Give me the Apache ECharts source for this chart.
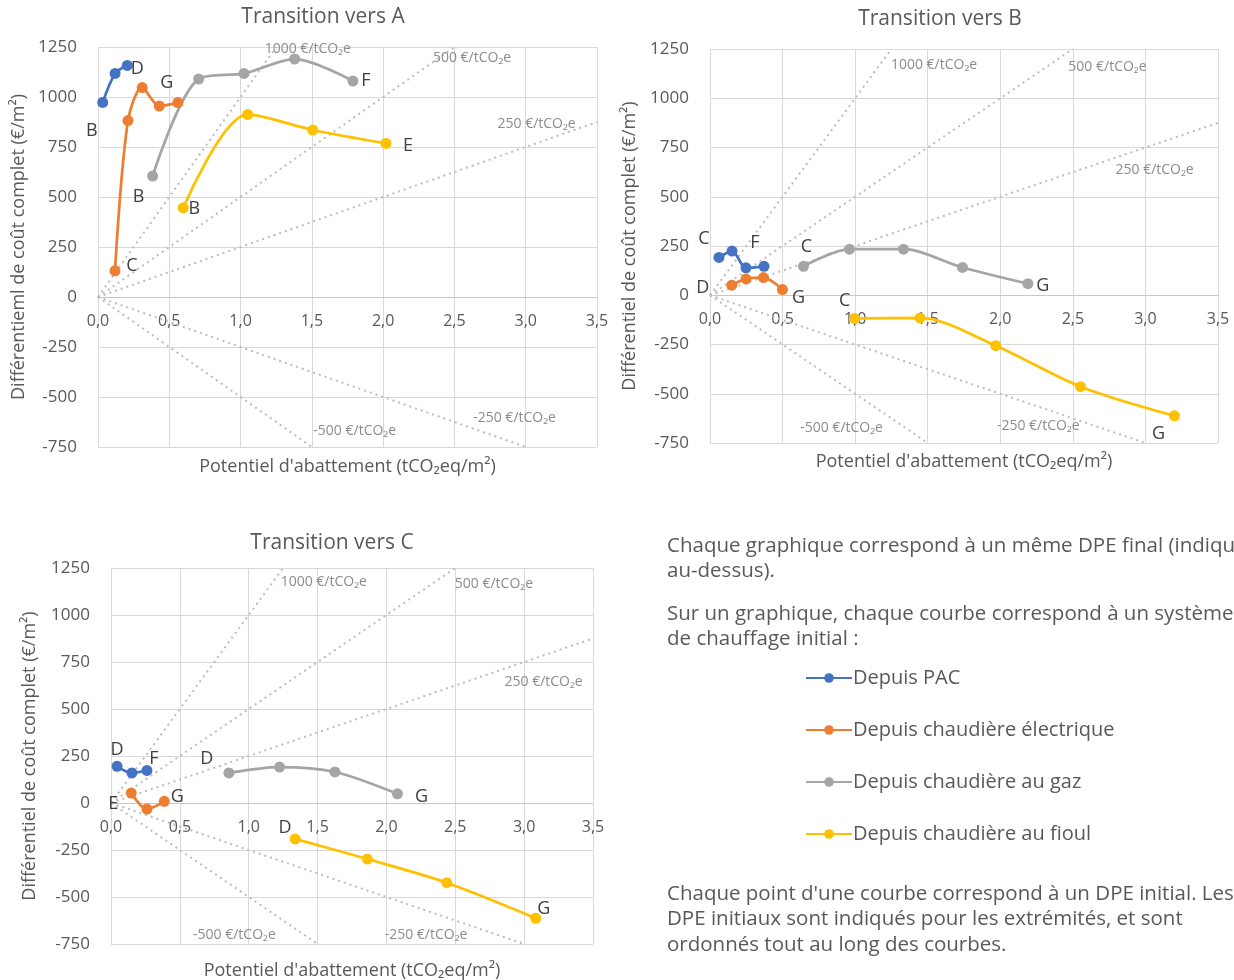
<!DOCTYPE html>
<html><head><meta charset="utf-8">
<script src="https://cdn.jsdelivr.net/npm/echarts@6/dist/echarts.min.js"></script>
<style>html,body{margin:0;padding:0;background:#fff}#c{width:1234px;height:980px}</style>
</head><body><div id="c"></div>
<script>
const FONT = "'Open Sans', sans-serif";
const chartTitles = ['Transition vers A', 'Transition vers B', 'Transition vers C'];
const seriesNames = ['Depuis PAC', 'Depuis chaudière électrique', 'Depuis chaudière au gaz', 'Depuis chaudière au fioul'];
const seriesColors = ['#4472C4', '#ED7D31', '#A5A5A5', '#FFC000'];
const yTitles = ['Différentieml de coût complet (€/m²)', 'Différentiel de coût complet (€/m²)', 'Différentiel de coût complet (€/m²)'];
const xTitle = "Potentiel d'abattement (tCO₂eq/m²)";

// Transition vers A : [potentiel, différentiel]
const aPac   = [[0.033, 973], [0.12, 1118], [0.205, 1158]];
const aElec  = [[0.119, 131], [0.21, 882], [0.31, 1047], [0.43, 955], [0.56, 972]];
const aGaz   = [[0.383, 605], [0.706, 1090], [1.024, 1118], [1.379, 1190], [1.788, 1080]];
const aFioul = [[0.598, 446], [1.05, 913], [1.506, 835], [2.02, 768]];
const aEnds  = [['B', 'D'], ['C', 'G'], ['B', 'F'], ['B', 'E']];

// Transition vers B
const bPac   = [[0.062, 192], [0.152, 224], [0.248, 139], [0.372, 147]];
const bElec  = [[0.15, 51], [0.248, 83], [0.368, 90], [0.499, 29]];
const bGaz   = [[0.644, 147], [0.961, 234], [1.333, 234], [1.74, 141], [2.19, 59]];
const bFioul = [[0.996, -118], [1.447, -115], [1.969, -256], [2.553, -464], [3.2, -612]];
const bEnds  = [['C', 'F'], ['D', 'G'], ['C', 'G'], ['C', 'G']];

// Transition vers C
const cPac   = [[0.044, 195], [0.152, 160], [0.261, 173]];
const cElec  = [[0.147, 53], [0.261, -32], [0.387, 9]];
const cGaz   = [[0.856, 160], [1.224, 191], [1.626, 165], [2.08, 49]];
const cFioul = [[1.337, -191], [1.862, -298], [2.438, -424], [3.084, -613]];
const cEnds  = [['D', 'F'], ['E', 'G'], ['D', 'G'], ['D', 'G']];

// iso-cost lines (€/tCO2e)
const rateValues = [1000, 500, 250, -250, -500];

const xMin = 0, xMax = 3.5, xStep = 0.5;
const yMin = -750, yMax = 1250, yStep = 250;

const textLines = [
  'Chaque graphique correspond à un même DPE final (indiqué',
  'au-dessus).',
  'Sur un graphique, chaque courbe correspond à un système',
  'de chauffage initial :',
  "Chaque point d'une courbe correspond à un DPE initial. Les",
  'DPE initiaux sont indiqués pour les extrémités, et sont',
  'ordonnés tout au long des courbes.'
];

// ---------- layout (styles / positions) ----------
const charts = [
  { data: [aPac, aElec, aGaz, aFioul], ends: aEnds },
  { data: [bPac, bElec, bGaz, bFioul], ends: bEnds },
  { data: [cPac, cElec, cGaz, cFioul], ends: cEnds }
];
const layouts = [
  { grid: { left: 98, top: 47, width: 499, height: 400 }, title: [323, 17], yGap: 70, xGap: 161,
    rateOff: [[-17, 2], [-27, 11], [-105, 2], [-58, -29], [-4, -16]],
    endOff: [[[-11, 28], [10, 3]], [[17, -5], [-11, -20]], [[-14, 21], [13, 0]], [[11, 1], [22, 2]]] },
  { grid: { left: 710, top: 49, width: 508, height: 394 }, title: [940, 19], yGap: 71, xGap: 158,
    rateOff: [[-6, 16], [-10, 18], [-108, 47], [-154, -17], [-133, -15]],
    endOff: [[[-15, -19], [-9, -23]], [[-29, 3], [16, 8]], [[3, -19], [15, 2]], [[-10, -18], [-16, 18]]] },
  { grid: { left: 111, top: 568, width: 482, height: 376 }, title: [332, 543], yGap: 72, xGap: 159,
    rateOff: [[-8, 14], [-6, 16], [-94, 44], [-145, -9], [-130, -9]],
    endOff: [[[0, -16], [7, -12]], [[-18, 11], [13, -4]], [[-22, -14], [24, 3]], [[-10, -11], [8, -9]]] }
];

const grids = [], xAxes = [], yAxes = [], series = [], graphics = [];
const tickColor = '#595959';

layouts.forEach((L, k) => {
  grids.push(Object.assign({ outerBoundsMode: 'none', containLabel: false }, L.grid));
  // move the x axis line + labels up to y = 0 (derived from the y scale)
  const zeroOffset = -L.grid.height * (0 - yMin) / (yMax - yMin);
  xAxes.push({
    type: 'value', gridIndex: k, min: xMin, max: xMax, interval: xStep,
    position: 'bottom', offset: zeroOffset,
    axisLine: { show: true, onZero: false, lineStyle: { color: '#c8c8c8', width: 1 } },
    axisTick: { show: false },
    axisLabel: { color: tickColor, fontFamily: FONT, fontSize: 16, margin: 16,
      formatter: v => v.toFixed(1).replace('.', ',') },
    splitLine: { show: true, lineStyle: { color: '#d9d9d9', width: 1 } },
    name: xTitle, nameLocation: 'middle', nameGap: L.xGap,
    nameTextStyle: { color: tickColor, fontFamily: FONT, fontSize: 18 }
  });
  yAxes.push({
    type: 'value', gridIndex: k, min: yMin, max: yMax, interval: yStep,
    axisLine: { show: false, onZero: false }, axisTick: { show: false },
    axisLabel: { color: tickColor, fontFamily: FONT, fontSize: 17, margin: 21, formatter: v => String(v) },
    splitLine: { show: true, lineStyle: { color: '#d9d9d9', width: 1 } },
    name: yTitles[k], nameLocation: 'middle', nameGap: L.yGap, nameRotate: 90,
    nameTextStyle: { color: tickColor, fontFamily: FONT, fontSize: 18 }
  });
  graphics.push({
    type: 'text', x: L.title[0], y: L.title[1],
    style: { text: chartTitles[k], fill: tickColor, font: '21px ' + FONT, textAlign: 'center', textVerticalAlign: 'middle' }
  });

  // iso-cost dotted lines
  rateValues.forEach((r, i) => {
    const xe = r > 0 ? Math.min(xMax, yMax / r) : Math.min(xMax, yMin / r);
    series.push({
      type: 'line', xAxisIndex: k, yAxisIndex: k, silent: true, z: 1,
      symbol: 'circle', symbolSize: 1, itemStyle: { color: 'transparent' },
      lineStyle: { color: '#bcbcbc', width: 2, type: [2, 4] },
      data: [[0, 0], { value: [xe, r * xe], label: {
        show: true, position: 'right', distance: 5, offset: L.rateOff[i],
        formatter: r + ' €/tCO₂e', color: '#8c8c8c', fontFamily: FONT, fontSize: 14 } }],
      animation: false
    });
  });

  // data series
  charts[k].data.forEach((pts, s) => {
    const last = pts.length - 1;
    series.push({
      type: 'line', name: seriesNames[s], xAxisIndex: k, yAxisIndex: k, z: 3,
      smooth: 0.3,
      symbol: 'circle', symbolSize: 11,
      lineStyle: { color: seriesColors[s], width: 2.75 },
      itemStyle: { color: seriesColors[s] },
      data: pts.map((p, i) => {
        const item = { value: p };
        if (i === 0 || i === last) {
          const e = i === 0 ? 0 : 1;
          item.label = { show: true, position: 'inside', offset: L.endOff[s][e],
            formatter: charts[k].ends[s][e], color: '#404040', fontFamily: FONT, fontSize: 18 };
        }
        return item;
      }),
      animation: false
    });
  });
});

// explanatory text
const textY = [546, 571, 614, 639, 894, 919, 945];
textLines.forEach((t, i) => {
  graphics.push({ type: 'text', x: 667, y: textY[i],
    style: { text: t, fill: tickColor, font: '20.5px ' + FONT, textVerticalAlign: 'middle' } });
});

const chart = echarts.init(document.getElementById('c'), null, { renderer: 'canvas' });
chart.setOption({
  backgroundColor: '#ffffff',
  animation: false,
  grid: grids, xAxis: xAxes, yAxis: yAxes, series: series,
  legend: {
    data: seriesNames, orient: 'vertical', left: 800, top: 663,
    itemWidth: 46, itemHeight: 12, itemGap: 32, selectedMode: false,
    textStyle: { color: tickColor, fontFamily: FONT, fontSize: 20, padding: [0, 0, 0, -4] }
  },
  graphic: graphics
});
</script></body></html>
